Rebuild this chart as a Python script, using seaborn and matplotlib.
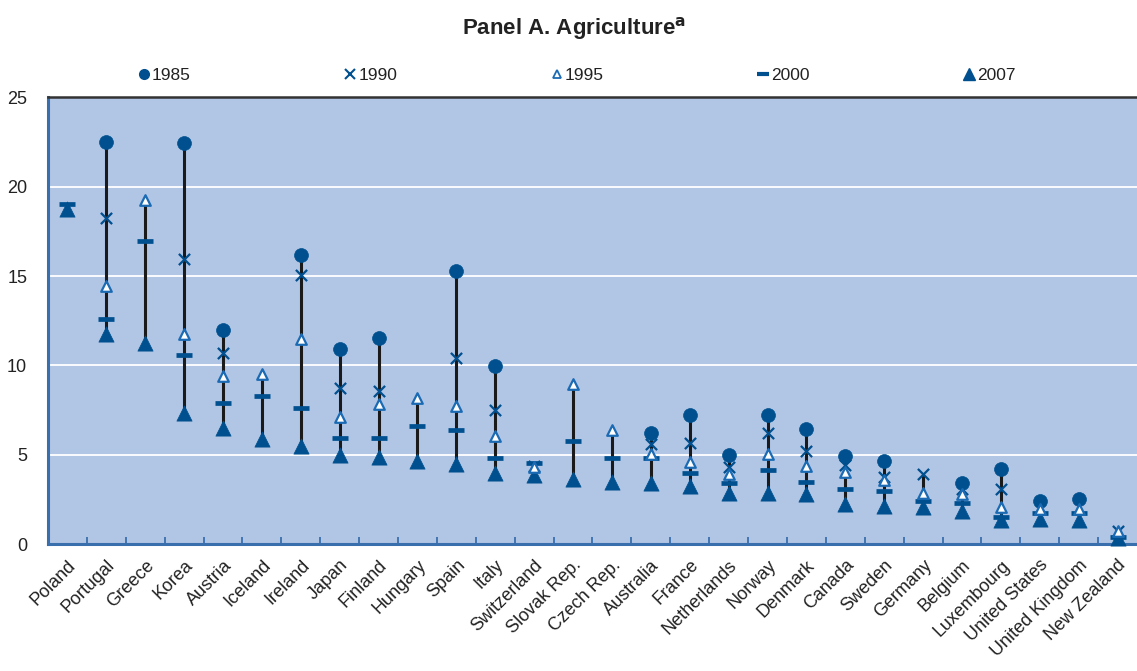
import numpy as np
import pandas as pd
import matplotlib
matplotlib.use("Agg")
import matplotlib.pyplot as plt
import seaborn as sns
from matplotlib.lines import Line2D

countries = ["Poland", "Portugal", "Greece", "Korea", "Austria", "Iceland", "Ireland",
             "Japan", "Finland", "Hungary", "Spain", "Italy", "Switzerland", "Slovak Rep.",
             "Czech Rep.", "Australia", "France", "Netherlands", "Norway", "Denmark",
             "Canada", "Sweden", "Germany", "Belgium", "Luxembourg", "United States",
             "United Kingdom", "New Zealand"]

nan = np.nan
y1985 = [nan, 22.5, nan, 22.45, 12.0, nan, 16.15, 10.9, 11.55, nan, 15.27, 9.99, nan, nan,
         nan, 6.23, 7.25, 5.01, 7.21, 6.43, 4.96, 4.66, nan, 3.45, 4.22, 2.42, 2.5, nan]
y1990 = [nan, 18.25, nan, 15.94, 10.72, nan, 15.08, 8.74, 8.58, nan, 10.42, 7.48, 4.4, nan,
         nan, 5.59, 5.67, 4.33, 6.23, 5.22, 4.42, 3.75, 3.95, 3.1, 3.11, nan, nan, 0.75]
y1995 = [nan, 14.43, 19.28, 11.76, 9.41, 9.51, 11.47, 7.12, 7.87, 8.15, 7.72, 6.04, 4.3, 8.95,
         6.38, 5.07, 4.6, 3.95, 5.07, 4.38, 4.06, 3.58, 2.87, 2.82, 2.07, 1.95, 1.95, 0.73]
y2000 = [19.05, 12.58, 16.95, 10.61, 7.92, 8.31, 7.64, 5.95, 5.95, 6.6, 6.36, 4.81, 4.55, 5.76,
         4.81, 4.83, 3.99, 3.45, 4.14, 3.49, 3.11, 2.96, 2.4, 2.31, 1.53, 1.72, 1.74, 0.41]
y2007 = [18.77, 11.78, 11.28, 7.35, 6.52, 5.91, 5.5, 4.98, 4.85, 4.66, 4.47, 3.99, 3.88, 3.62,
         3.47, 3.41, 3.24, 2.89, 2.87, 2.83, 2.25, 2.16, 2.06, 1.85, 1.37, 1.41, 1.34, 0.32]

years = ["1985", "1990", "1995", "2000", "2007"]
values = {"1985": y1985, "1990": y1990, "1995": y1995, "2000": y2000, "2007": y2007}

pos = np.arange(len(countries))
df = pd.DataFrame({"country": countries, "pos": pos, **values})
long = df.melt(id_vars=["country", "pos"], value_vars=years, var_name="year", value_name="share")

BLUE = "#00508F"
EDGE = "#1B6BB4"
BG = "#B1C5E5"
SPINE = "#3A6FAE"
TEXT = "#222222"

sns.set_theme(style="white")
plt.rcParams["font.family"] = ["Liberation Sans", "DejaVu Sans"]

fig = plt.figure(figsize=(11.37, 6.71), dpi=100)
ax = fig.add_axes([0.0422, 0.189, 0.9578, 0.666])
ax.set_facecolor(BG)

# range line for each country, from its lowest to its highest share
lo = df[years].min(axis=1)
hi = df[years].max(axis=1)
ax.vlines(df["pos"], lo, hi, color="#1a1a1a", linewidth=2.2, zorder=2)

styles = {
    "2007": dict(marker="^", s=120, color=BLUE, edgecolor=BLUE, linewidth=0.5),
    "2000": dict(marker="_", s=130, color=BLUE, linewidth=3.4),
    "1985": dict(marker="o", s=100, color=BLUE, edgecolor=BLUE, linewidth=0.5),
    "1990": dict(marker="x", s=65, color=BLUE, linewidth=1.6),
    "1995": dict(marker="^", s=58, color="white", edgecolor=EDGE, linewidth=1.6),
}
for z, yr in enumerate(["2007", "2000", "1985", "1990", "1995"]):
    sub = long[long["year"] == yr].dropna()
    sns.scatterplot(data=sub, x="pos", y="share", ax=ax, zorder=3 + z, legend=False,
                    clip_on=False, **styles[yr])

handles = [
    Line2D([], [], linestyle="none", marker="o", markersize=7, color=BLUE),
    Line2D([], [], linestyle="none", marker="x", markersize=6.5, color=BLUE, markeredgewidth=1.5),
    Line2D([], [], linestyle="none", marker="^", markersize=5.5, markerfacecolor="white",
           markeredgecolor=EDGE, markeredgewidth=1.3),
    Line2D([], [], linestyle="none", marker="_", markersize=8, color=BLUE, markeredgewidth=3),
    Line2D([], [], linestyle="none", marker="^", markersize=8, color=BLUE),
]
leg = ax.legend(handles, years, loc="lower center", bbox_to_anchor=(0.486, 1.005), ncol=5,
                frameon=False, fontsize=12.5, handlelength=0.6, handletextpad=0.15,
                columnspacing=8.9, borderaxespad=0.3)
for t in leg.get_texts():
    t.set_color(TEXT)

ax.set_xlim(-0.5, len(countries) - 0.5)
ax.set_ylim(0, 25)
ax.set_yticks([0, 5, 10, 15, 20, 25])
ax.set_yticklabels(["0", "5", "10", "15", "20", "25"], fontsize=13, color=TEXT)
ax.tick_params(axis="y", length=0, pad=15)
for yv in [5, 10, 15, 20]:
    ax.axhline(yv, color="white", linewidth=1.3, zorder=1)

ax.set_xticks(pos)
ax.set_xticklabels(countries, rotation=45, ha="right", rotation_mode="anchor",
                   fontsize=13, color=TEXT)
ax.tick_params(axis="x", which="major", bottom=True, length=0, pad=9)
ax.set_xticks(np.arange(0.5, len(countries) - 1, 1.0), minor=True)
ax.tick_params(axis="x", which="minor", bottom=True, direction="in", length=5, width=1.3,
               color=SPINE)
ax.set_xlabel("")
ax.set_ylabel("")

for side in ["left", "bottom"]:
    ax.spines[side].set_color(SPINE)
    ax.spines[side].set_linewidth(2.2)
ax.spines["top"].set_color("#333333")
ax.spines["top"].set_linewidth(1.8)
ax.spines["right"].set_visible(False)

fig.text(0.505, 0.958, r"Panel A. Agriculture$^{\mathbf{a}}$", ha="center", va="center",
         fontsize=16, fontweight="bold", color=TEXT)

fig.savefig("out.png", dpi=100)
